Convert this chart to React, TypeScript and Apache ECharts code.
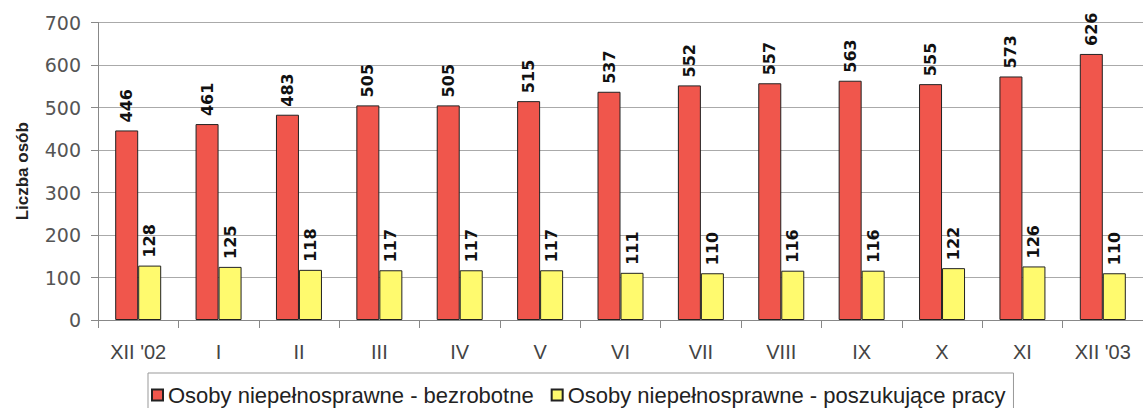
import React, { useEffect, useRef } from "react";
import * as echarts from "echarts";

const categories = ["XII '02", "I", "II", "III", "IV", "V", "VI", "VII", "VIII", "IX", "X", "XI", "XII '03"];
const unemployed = [446, 461, 483, 505, 505, 515, 537, 552, 557, 563, 555, 573, 626];
const jobSeekers = [128, 125, 118, 117, 117, 117, 111, 110, 116, 116, 122, 126, 110];
const seriesNames = ["Osoby niepełnosprawne - bezrobotne", "Osoby niepełnosprawne - poszukujące pracy"];
const yAxisName = "Liczba osób";

const BAR_W = 23;

export default function App() {
  const ref = useRef<HTMLDivElement>(null);
  useEffect(() => {
    document.body.style.margin = "0";
    const chart = echarts.init(ref.current!, null, { renderer: "svg" });
    const labelData: number[][] = [];
    unemployed.forEach((v, i) => labelData.push([i, v, 0]));
    jobSeekers.forEach((v, i) => labelData.push([i, v, 1]));
    chart.setOption({
      animation: false,
      backgroundColor: "#fff",
      grid: { left: 98, right: -10, top: 22.5, bottom: 88 },
      legend: {
        left: 148,
        top: 373,
        padding: [11, 8, 8, 3],
        itemGap: 17,
        itemWidth: 11,
        itemHeight: 11,
        borderColor: "#999",
        borderWidth: 1,
        icon: "rect",
        textStyle: { fontFamily: "Liberation Sans", fontSize: 22, color: "#222" },
        data: seriesNames,
      },
      xAxis: {
        type: "category",
        data: categories,
        axisLine: { lineStyle: { color: "#888", width: 1 } },
        axisTick: { show: true, length: 8, lineStyle: { color: "#888" } },
        axisLabel: { margin: 22, fontFamily: "Liberation Sans", fontSize: 20, color: "#444" },
      },
      yAxis: {
        type: "value",
        min: 0,
        max: 700,
        interval: 100,
        name: yAxisName,
        nameLocation: "middle",
        nameGap: 67,
        nameTextStyle: { fontFamily: "Liberation Sans", fontWeight: "bold", fontSize: 17, color: "#222" },
        axisLine: { show: true, lineStyle: { color: "#888", width: 1 } },
        axisTick: { show: true, length: 7, lineStyle: { color: "#888" } },
        axisLabel: { margin: 17, fontFamily: "DejaVu Sans", fontSize: 19, color: "#555" },
        splitLine: { lineStyle: { color: "#aaa", width: 1 } },
      },
      series: [
        {
          name: seriesNames[0],
          type: "bar",
          data: unemployed,
          barWidth: BAR_W,
          barGap: "0%",
          itemStyle: { color: "#F0564C", borderColor: "#222", borderWidth: 1 },
        },
        {
          name: seriesNames[1],
          type: "bar",
          data: jobSeekers,
          barWidth: BAR_W,
          itemStyle: { color: "#FFFA6E", borderColor: "#222", borderWidth: 1 },
        },
        {
          name: "labels",
          type: "custom",
          silent: true,
          z: 10,
          data: labelData,
          renderItem: (params: any, api: any) => {
            const idx = api.value(0);
            const v = api.value(1);
            const s = api.value(2);
            const p = api.coord([idx, v]);
            const x = p[0] + (s === 0 ? -BAR_W / 2 : BAR_W / 2);
            return {
              type: "text",
              x,
              y: p[1] - 8,
              rotation: Math.PI / 2,
              style: {
                text: String(v),
                align: "left",
                verticalAlign: "middle",
                font: 'bold 16px "DejaVu Sans"',
                fill: "#111",
              },
            };
          },
        },
      ],
    });
    return () => chart.dispose();
  }, []);
  return <div ref={ref} style={{ width: 1143, height: 408 }} />;
}
